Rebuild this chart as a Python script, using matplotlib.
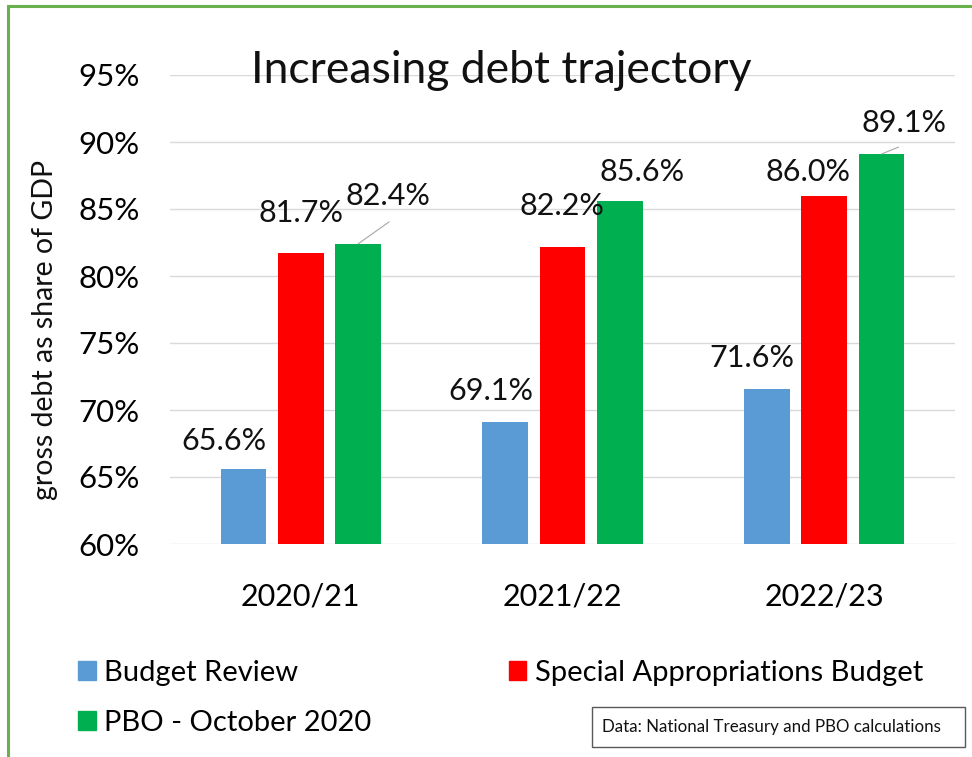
import matplotlib
matplotlib.use("Agg")
import matplotlib.pyplot as plt
from matplotlib.patches import Patch, Rectangle
import numpy as np

plt.rcParams["font.family"] = ["Lato", "DejaVu Sans"]

years = ["2020/21", "2021/22", "2022/23"]
series = ["Budget Review", "Special Appropriations Budget", "PBO - October 2020"]
budget_review = [65.6, 69.1, 71.6]
special_approp = [81.7, 82.2, 86.0]
pbo_oct2020 = [82.4, 85.6, 89.1]
yticks = [60, 65, 70, 75, 80, 85, 90, 95]
colors = ["#5B9BD5", "#FF0000", "#00B050"]

# label placement relative to bar top (pixels), per series then per year
label_off = [[(-20, 28), (-14, 31), (-15, 31)],
             [(0, 40), (-1, 41), (-16, 24)],
             [(30, 48), (22, 29), (23, 31)]]
leaders = {(2, 0): (31, 22), (2, 2): (17, 7)}

fig = plt.figure(figsize=(9.72, 7.57), dpi=100)
ax = fig.add_axes([170 / 972, 1 - 544 / 757, 785 / 972, (544 - 75) / 757])

x = np.arange(len(years))
step, width = 0.219, 0.174
vals = [budget_review, special_approp, pbo_oct2020]
for s, (v, c) in enumerate(zip(vals, colors)):
    xs = x + (s - 1) * step
    ax.bar(xs, v, width=width, color=c, zorder=3)
    for k, (xi, yi) in enumerate(zip(xs, v)):
        dx, dy = label_off[s][k]
        ax.annotate(f"{yi:.1f}%", (xi, yi), xytext=(dx, dy), textcoords="offset pixels",
                    ha="center", va="center", fontsize=22, color="#111111", zorder=5)
        if (s, k) in leaders:
            lx, ly = leaders[(s, k)]
            ax.annotate("", (xi, yi), xytext=(lx, ly), textcoords="offset pixels",
                        arrowprops=dict(arrowstyle="-", color="#A6A6A6", lw=0.8,
                                        shrinkA=0, shrinkB=0))

ax.set_ylim(60, 95)
ax.set_xlim(-0.5, 2.5)
ax.set_yticks(yticks)
ax.set_yticklabels([f"{t}%" for t in yticks])
ax.set_xticks(x)
ax.set_xticklabels(years)
ax.tick_params(axis="y", length=0, pad=22, labelsize=22.5)
ax.tick_params(axis="x", length=0, pad=28, labelsize=22)
ax.grid(axis="y", color="#D9D9D9", lw=1, zorder=0)
for sp in ax.spines.values():
    sp.set_visible(False)

fig.text(501 / 972, 1 - 83 / 757, "Increasing debt trajectory", ha="center",
         va="baseline", fontsize=32, color="#111111")
fig.text(45 / 972, 1 - 330 / 757, "gross debt as share of GDP", rotation=90,
         ha="center", va="center", fontsize=20.5, color="#111111")

handles = [Patch(color=c) for c in colors]
order = [0, 2, 1]
fig.legend([handles[i] for i in order], [series[i] for i in order], ncol=2,
           loc="upper left", bbox_to_anchor=(78 / 972, 1 - 660 / 757), frameon=False,
           fontsize=21, handlelength=0.6, handleheight=0.6, handletextpad=0.3,
           columnspacing=4.7, labelspacing=0.82, borderpad=0, borderaxespad=0)

fig.text(602 / 972, 1 - 727 / 757, "Data: National Treasury and PBO calculations",
         ha="left", va="center", fontsize=12.2, color="#111111")
fig.patches.append(Rectangle((592 / 972, 1 - 747 / 757), 373 / 972, 40 / 757,
                             transform=fig.transFigure, fill=False, ec="#595959", lw=1))
# outer green frame
fig.patches.append(Rectangle((8 / 972, -0.05), 1.1, 1 - 6 / 757 + 0.05,
                             transform=fig.transFigure, fill=False, ec="#6AB04C", lw=2.2))

fig.savefig("out.png", dpi=100)
